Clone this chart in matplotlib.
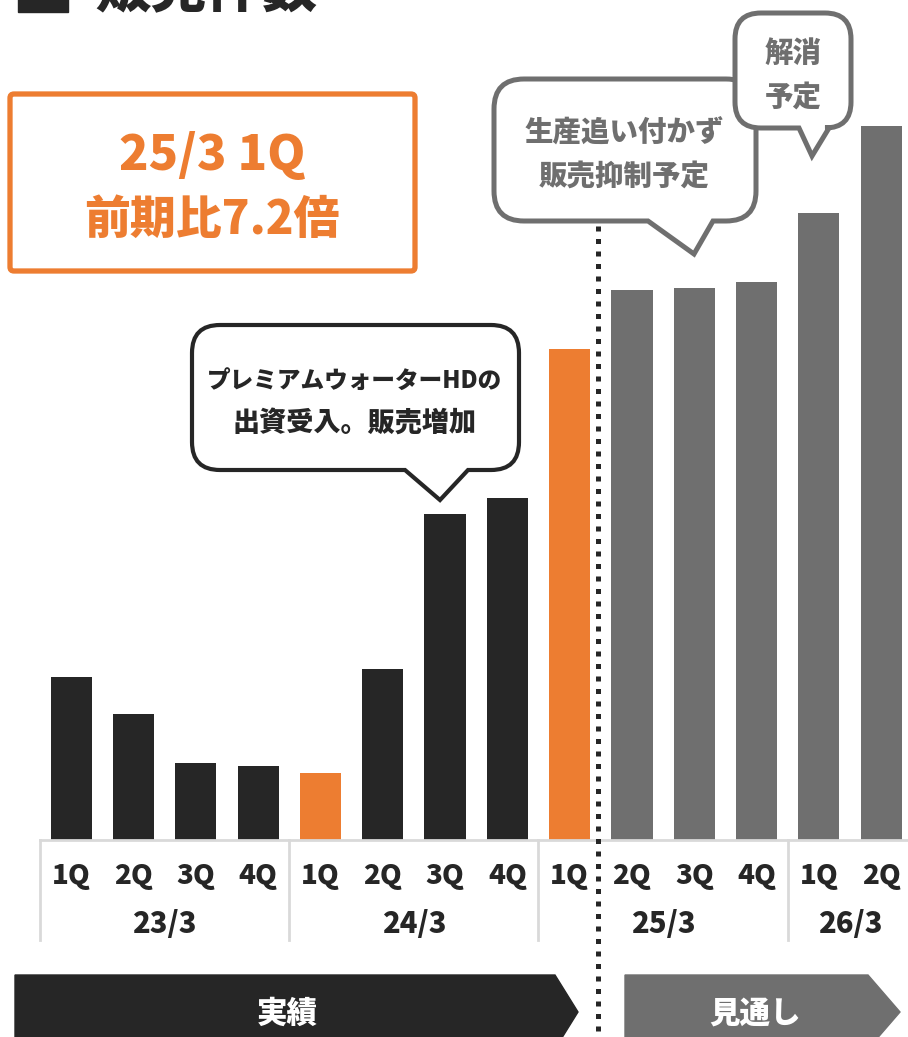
import matplotlib
matplotlib.use('Agg')
import matplotlib.pyplot as plt
from matplotlib.path import Path
from matplotlib.patches import PathPatch, Rectangle, Polygon, FancyBboxPatch

plt.rcParams['font.family'] = ['Noto Sans CJK JP', 'DejaVu Sans']
plt.rcParams['font.weight'] = 'heavy'

# data (relative units)
periods = ['23/3', '24/3', '25/3', '26/3']
period_counts = [4, 4, 4, 2]
quarters = ['1Q', '2Q', '3Q', '4Q', '1Q', '2Q', '3Q', '4Q', '1Q', '2Q', '3Q', '4Q', '1Q', '2Q']
values = [163, 126, 77, 74, 67, 171, 326, 342, 491, 550, 552, 558, 627, 714]
kinds = ['act', 'act', 'act', 'act', 'hl', 'act', 'act', 'act', 'hl',
         'fc', 'fc', 'fc', 'fc', 'fc']

DARK = '#262626'
ORANGE = '#ED7D31'
GRAY = '#6F6F6F'
LIGHT = '#D9D9D9'
colors = {'act': DARK, 'hl': ORANGE, 'fc': GRAY}

W, H = 908, 1037
fig = plt.figure(figsize=(W / 100, H / 100), dpi=100)

# main bar axes: baseline at y=840px, 740px tall, from x=40px to right edge
ax_h = 740
ax = fig.add_axes([40 / W, (H - 840) / H, 868 / W, ax_h / H])
x = list(range(len(values)))
ax.bar(x, values, width=0.66, color=[colors[k] for k in kinds], zorder=2)
ax.set_xlim(-0.5, 13.43)
ax.set_ylim(0, ax_h)
ax.axis('off')

# baseline
ax.plot([0, 1], [0, 0], transform=ax.transAxes, color=LIGHT, lw=2, clip_on=False)

xt = ax.get_xaxis_transform()
for i, q in enumerate(quarters):
    ax.text(i, -36 / ax_h, q, transform=xt, ha='center', va='center',
            fontsize=20, color=DARK)

start = 0
for p, n in zip(periods, period_counts):
    ax.plot([start - 0.5, start - 0.5], [0, -100 / ax_h], transform=xt,
            color=LIGHT, lw=2, clip_on=False)
    ax.text(start + (n - 1) / 2, -84 / ax_h, p, transform=xt, ha='center',
            va='center', fontsize=21, color=DARK)
    start += n

# overlay in pixel coordinates for annotations
ov = fig.add_axes([0, 0, 1, 1], zorder=5)
ov.set_xlim(0, W)
ov.set_ylim(H, 0)
ov.axis('off')
ov.patch.set_alpha(0)


def bubble(x0, y0, x1, y1, r, tx0, tx1, tipx, tipy):
    verts = [(x0 + r, y0), (x1 - r, y0), (x1, y0), (x1, y0 + r),
             (x1, y1 - r), (x1, y1), (x1 - r, y1),
             (tx1, y1), (tipx, tipy), (tx0, y1),
             (x0 + r, y1), (x0, y1), (x0, y1 - r),
             (x0, y0 + r), (x0, y0), (x0 + r, y0), (x0 + r, y0)]
    codes = [Path.MOVETO, Path.LINETO, Path.CURVE3, Path.CURVE3,
             Path.LINETO, Path.CURVE3, Path.CURVE3,
             Path.LINETO, Path.LINETO, Path.LINETO,
             Path.LINETO, Path.CURVE3, Path.CURVE3,
             Path.LINETO, Path.CURVE3, Path.CURVE3, Path.CLOSEPOLY]
    return Path(verts, codes)


# title (cut off at the top, as in the source)
ov.add_patch(Rectangle((18, -20), 50, 32, color=DARK, clip_on=False))
ov.text(95, 6, '販売件数', fontsize=40, color=DARK, va='baseline', ha='left')

# orange box
ov.add_patch(FancyBboxPatch((10, 94), 405, 177, boxstyle='round,pad=0,rounding_size=4',
                            fc='white', ec=ORANGE, lw=3.8))
ov.text(212, 155, '25/3 1Q', fontsize=35, color=ORANGE, ha='center', va='center')
ov.text(212, 220, '前期比7.2倍', fontsize=33, color=ORANGE, ha='center', va='center')

# black bubble
ov.add_patch(PathPatch(bubble(192, 325, 519, 470, 28, 405, 468, 440, 500),
                       fc='white', ec=DARK, lw=3, joinstyle='miter'))
ov.text(355, 381, 'プレミアムウォーターHDの', fontsize=17, color=DARK,
        ha='center', va='center')
ov.text(355, 422, '出資受入。販売増加', fontsize=19.5, color=DARK,
        ha='center', va='center')

# dotted divider
ov.plot([598, 598], [226, H], color=DARK, lw=3.6, ls=(0, (1, 1.5)),
        dash_capstyle='butt', zorder=1)

# gray bubbles
ov.add_patch(PathPatch(bubble(494, 79, 756, 221, 30, 648, 713, 694, 254),
                       fc='white', ec=GRAY, lw=3.6, joinstyle='miter', zorder=3))
ov.text(624, 133, '生産追い付かず', fontsize=20.5, color=GRAY, ha='center', va='center',
        zorder=4)
ov.text(624, 176, '販売抑制予定', fontsize=20.5, color=GRAY, ha='center', va='center',
        zorder=4)

ov.add_patch(PathPatch(bubble(735, 13, 851, 128, 26, 799, 829, 812, 156),
                       fc='white', ec=GRAY, lw=3.6, joinstyle='miter', zorder=5))
ov.text(793, 53, '解消', fontsize=20.5, color=GRAY, ha='center', va='center', zorder=6)
ov.text(793, 97, '予定', fontsize=20.5, color=GRAY, ha='center', va='center', zorder=6)

# bottom arrows
ov.add_patch(Polygon([(15, 975), (555, 975), (578, 1012), (555, 1049), (15, 1049)],
                     closed=True, color=DARK, clip_on=False))
ov.text(287, 1013, '実績', fontsize=22, color='white', ha='center', va='center')
ov.add_patch(Polygon([(625, 975), (868, 975), (900, 1012), (868, 1049), (625, 1049)],
                     closed=True, color=GRAY, clip_on=False))
ov.text(755, 1013, '見通し', fontsize=22, color='white', ha='center', va='center')

fig.savefig('out.png', dpi=100)
